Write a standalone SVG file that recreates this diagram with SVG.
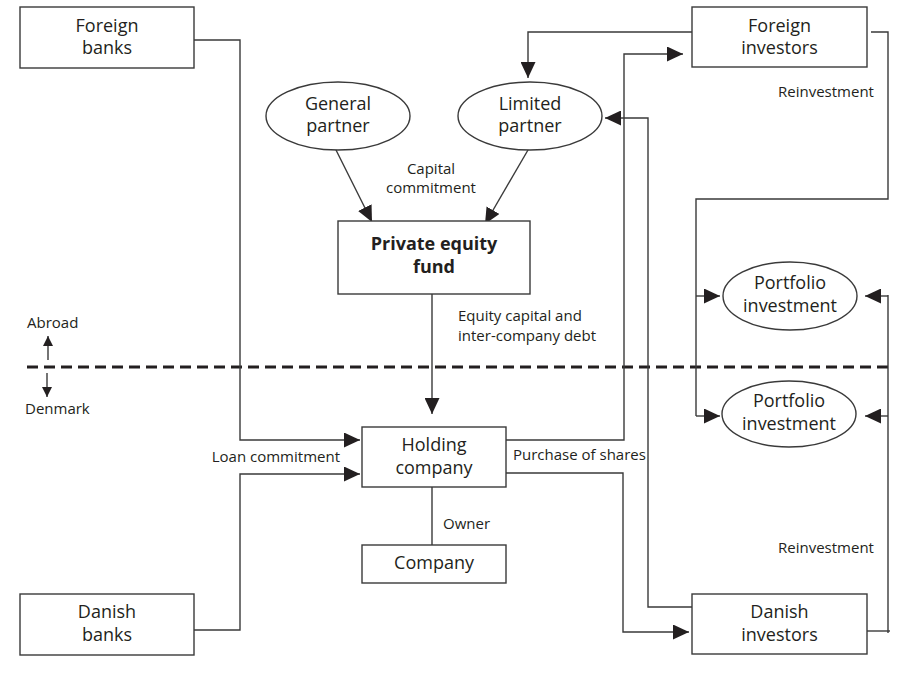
<svg xmlns="http://www.w3.org/2000/svg" width="904" height="680" viewBox="0 0 904 680">
<defs>
<marker id="ah" markerUnits="userSpaceOnUse" markerWidth="16" markerHeight="15" refX="16" refY="7.5" orient="auto">
<path d="M0,0 L16,7.5 L0,15 z" fill="#231f20"/>
</marker>
<marker id="ahs" markerUnits="userSpaceOnUse" markerWidth="10" markerHeight="10" refX="10" refY="5" orient="auto">
<path d="M0,0 L10,5 L0,10 z" fill="#231f20"/>
</marker>
</defs>
<style>
.box{fill:#fff;stroke:#3a3a3a;stroke-width:1.4}
.t{font-family:"Open Sans","Noto Sans",sans-serif;font-size:18px;fill:#231f20;text-anchor:middle}
.b{font-weight:bold}
.l{font-family:"Open Sans","Noto Sans",sans-serif;font-size:15px;fill:#231f20}
.c{fill:none;stroke:#3a3a3a;stroke-width:1.4}
.a{marker-end:url(#ah)}
.as{marker-end:url(#ahs)}
.dash{fill:none;stroke:#231f20;stroke-width:3;stroke-dasharray:11 6}
</style>
<rect width="904" height="680" fill="#fff"/>

<g id="connectors">
<line class="dash" x1="27" y1="367" x2="890" y2="367"/>
<line class="c as" x1="48" y1="360" x2="48" y2="336"/>
<line class="c as" x1="47" y1="373" x2="47" y2="397"/>
<polyline class="c a" points="194,40 240,40 240,440 360,440"/>
<polyline class="c a" points="194,630 240,630 240,474 360,474"/>
<line class="c a" x1="336" y1="150" x2="372" y2="222"/>
<line class="c a" x1="528" y1="150" x2="485" y2="224"/>
<line class="c a" x1="432" y1="294" x2="432" y2="414"/>
<line class="c" x1="432" y1="487" x2="432" y2="545"/>
<polyline class="c a" points="692,32 528,32 528,78"/>
<polyline class="c a" points="506,440 624,440 624,54 683,54"/>
<polyline class="c a" points="692,607 648,607 648,118 605,118"/>
<polyline class="c a" points="506,473 623,473 623,632 689,632"/>
<polyline class="c" points="871,32 888,32 888,199 696,199 696,416"/>
<line class="c a" x1="696" y1="296" x2="720" y2="296"/>
<line class="c a" x1="696" y1="416" x2="720" y2="416"/>
<polyline class="c" points="867,631 890,631"/>
<line class="c" x1="888" y1="633" x2="888" y2="295"/>
<line class="c a" x1="888" y1="296" x2="865" y2="296"/>
<line class="c a" x1="888" y1="416" x2="865" y2="416"/>
</g>

<g id="foreign-banks">
<rect class="box" x="20" y="7" width="174" height="61"/>
<text class="t" x="107" y="32">Foreign</text>
<text class="t" x="107" y="54">banks</text>
</g>
<g id="foreign-investors">
<rect class="box" x="692" y="7" width="175" height="60"/>
<text class="t" x="779.5" y="32">Foreign</text>
<text class="t" x="779.5" y="54">investors</text>
</g>
<g id="general-partner">
<ellipse class="box" cx="338" cy="116" rx="72" ry="34"/>
<text class="t" x="338" y="110">General</text>
<text class="t" x="338" y="132">partner</text>
</g>
<g id="limited-partner">
<ellipse class="box" cx="530" cy="116" rx="72" ry="34"/>
<text class="t" x="530" y="110">Limited</text>
<text class="t" x="530" y="132">partner</text>
</g>
<g id="private-equity-fund">
<rect class="box" x="338" y="221" width="192" height="73"/>
<text class="t b" x="434" y="250">Private equity</text>
<text class="t b" x="434" y="273">fund</text>
</g>
<g id="portfolio-abroad">
<ellipse class="box" cx="790" cy="296" rx="67" ry="34"/>
<text class="t" x="790" y="289">Portfolio</text>
<text class="t" x="790" y="312">investment</text>
</g>
<g id="portfolio-denmark">
<ellipse class="box" cx="789" cy="414" rx="67" ry="33"/>
<text class="t" x="789" y="407">Portfolio</text>
<text class="t" x="789" y="430">investment</text>
</g>
<g id="holding-company">
<rect class="box" x="362" y="427" width="144" height="60"/>
<text class="t" x="434" y="451">Holding</text>
<text class="t" x="434" y="474">company</text>
</g>
<g id="company">
<rect class="box" x="362" y="545" width="144" height="38"/>
<text class="t" x="434" y="569">Company</text>
</g>
<g id="danish-banks">
<rect class="box" x="20" y="594" width="174" height="61"/>
<text class="t" x="107" y="618">Danish</text>
<text class="t" x="107" y="641">banks</text>
</g>
<g id="danish-investors">
<rect class="box" x="692" y="594" width="175" height="60"/>
<text class="t" x="779.5" y="618">Danish</text>
<text class="t" x="779.5" y="641">investors</text>
</g>

<g id="labels">
<text class="l" x="431" y="174" text-anchor="middle">Capital</text>
<text class="l" x="431" y="193" text-anchor="middle">commitment</text>
<text class="l" x="458" y="321">Equity capital and</text>
<text class="l" x="458" y="341">inter-company debt</text>
<text class="l" x="27" y="328">Abroad</text>
<text class="l" x="25" y="414">Denmark</text>
<text class="l" x="340" y="462" text-anchor="end">Loan commitment</text>
<text class="l" x="513" y="460">Purchase of shares</text>
<text class="l" x="443" y="529">Owner</text>
<text class="l" x="778" y="97">Reinvestment</text>
<text class="l" x="778" y="553">Reinvestment</text>
</g>
</svg>
